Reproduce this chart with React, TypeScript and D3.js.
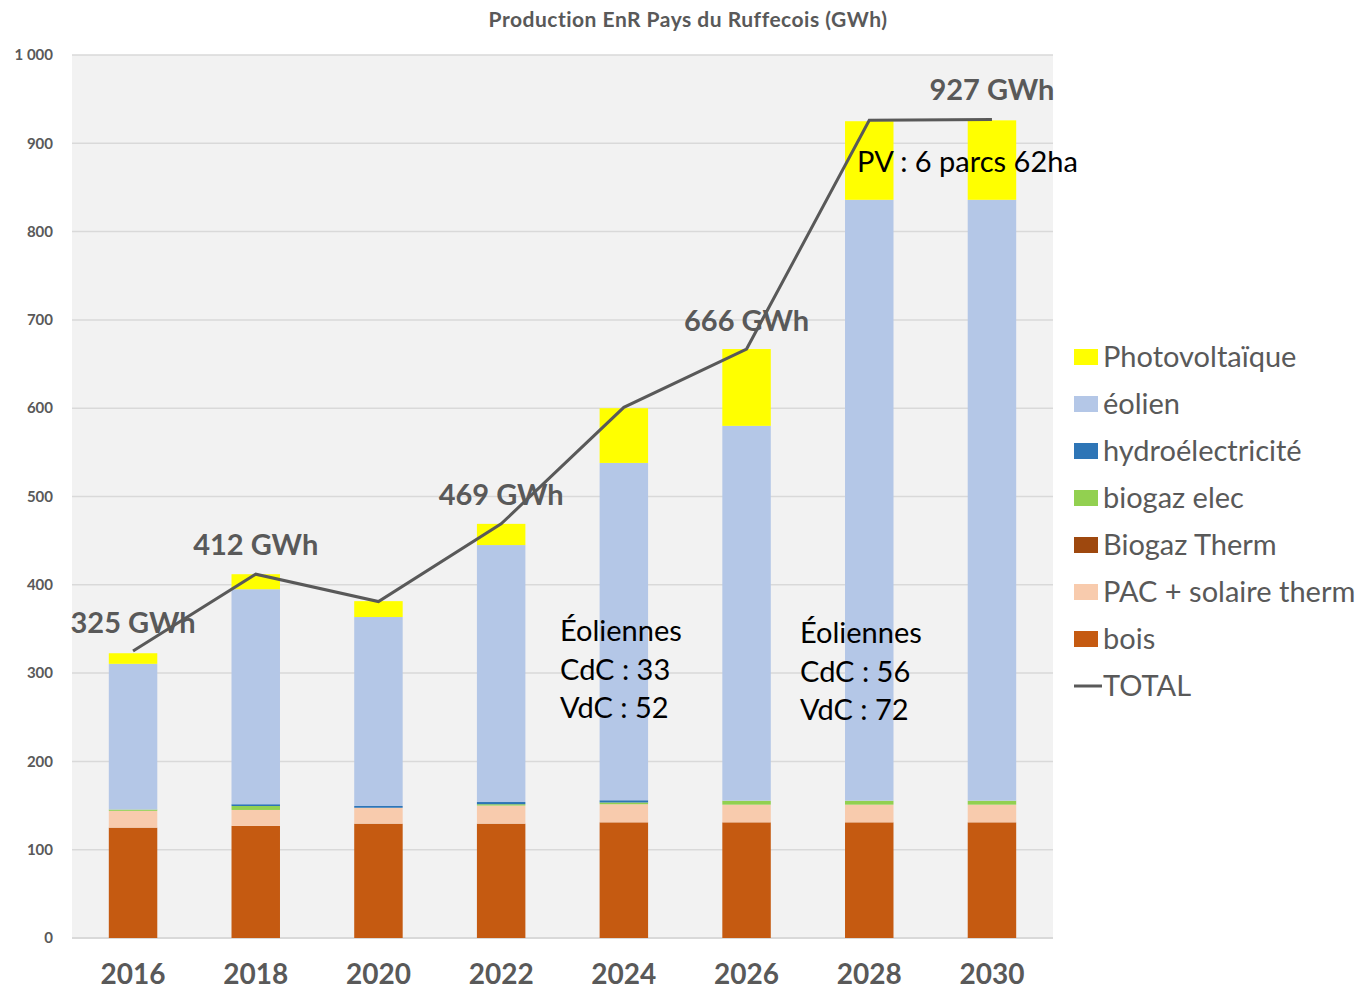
import * as d3 from "d3";

const years = ["2016", "2018", "2020", "2022", "2024", "2026", "2028", "2030"];

const bois = [125, 127, 129.5, 129.5, 131, 131, 131, 131];
const pacSolaire = [19, 18, 18, 20.5, 20.5, 20, 20, 20];
const biogazTherm = [0, 0, 0, 0, 0, 0, 0, 0];
const biogazElec = [1.5, 4.5, 0, 1.5, 2, 4.5, 4.5, 4.5];
const hydro = [0, 2, 2, 2.5, 2.5, 0, 0, 0];
const eolien = [165, 243.5, 214, 291, 382, 424.5, 680.5, 680.5];
const photovoltaique = [12, 17, 18, 24, 62, 87, 89, 90];
const total = [325, 412, 381, 469, 601, 667, 926, 927];

const yTicks = [0, 100, 200, 300, 400, 500, 600, 700, 800, 900, 1000];

const seriesNames = ["bois", "PAC + solaire therm", "Biogaz Therm", "biogaz elec", "hydroélectricité", "éolien", "Photovoltaïque"];
const seriesColors = ["#c55a11", "#f8cbad", "#9e480e", "#92d050", "#2e75b6", "#b4c7e7", "#ffff00"];

const totalLabels = [
  { i: 0, text: "325 GWh", dx: 0, dy: -18 },
  { i: 1, text: "412 GWh", dx: 0, dy: -19 },
  { i: 3, text: "469 GWh", dx: 0, dy: -19 },
  { i: 5, text: "666 GWh", dx: 0, dy: -18 },
  { i: 7, text: "927 GWh", dx: 0, dy: -19 },
];

const FONT = "Lato, 'Open Sans', sans-serif";
const GRAY = "#595959";

export default function App() {
  const width = 1363;
  const height = 992;
  const left = 72;
  const right = 1053;
  const top = 55;
  const bottom = 938;

  const x = d3.scaleBand<string>().domain(years).range([left, right]).paddingInner(0.605).paddingOuter(0.3);
  const y = d3.scaleLinear().domain([0, 1000]).range([bottom, top]);

  const rows = years.map((yr, i) => ({
    year: yr,
    s0: bois[i], s1: pacSolaire[i], s2: biogazTherm[i], s3: biogazElec[i],
    s4: hydro[i], s5: eolien[i], s6: photovoltaique[i],
  }));
  const stack = d3.stack<any>().keys(["s0", "s1", "s2", "s3", "s4", "s5", "s6"]);
  const layers = stack(rows);

  const cx = (yr: string) => (x(yr) as number) + x.bandwidth() / 2;
  const line = d3.line<number>().x((_, i) => cx(years[i])).y((d) => y(d));

  const legendItems = [...seriesNames.map((n, i) => ({ n, c: seriesColors[i] })).reverse()];

  return (
    <svg width={width} height={height} style={{ position: "absolute", left: 0, top: 0, background: "#fff" }} fontFamily={FONT}>
      <rect x={left} y={top} width={right - left} height={bottom - top} fill="#f2f2f2" />
      {yTicks.map((t) => (
        <g key={t}>
          <line x1={left} x2={right} y1={y(t)} y2={y(t)} stroke="#d9d9d9" strokeWidth={t === 0 ? 2 : 1.5} />
          <text x={53} y={y(t)} dy="0.35em" textAnchor="end" fontSize={15} fontWeight="bold" fill={GRAY}>
            {t === 1000 ? "1 000" : t}
          </text>
        </g>
      ))}
      <text x={688} y={27} textAnchor="middle" fontSize={21} fontWeight="bold" fill={GRAY} letterSpacing={0.5}>
        Production EnR Pays du Ruffecois (GWh)
      </text>
      {layers.map((layer, li) => (
        <g key={li} fill={seriesColors[li]}>
          {layer.map((d, j) => (
            <rect key={j} x={x(years[j])} width={x.bandwidth()} y={y(d[1])} height={Math.max(0, y(d[0]) - y(d[1]))} />
          ))}
        </g>
      ))}
      <path d={line(total) as string} fill="none" stroke={GRAY} strokeWidth={3} />
      {totalLabels.map((l) => (
        <text key={l.i} x={cx(years[l.i]) + l.dx} y={y(total[l.i]) + l.dy} textAnchor="middle" fontSize={29} fontWeight="bold" fill={GRAY}>
          {l.text}
        </text>
      ))}
      {years.map((yr) => (
        <text key={yr} x={cx(yr)} y={984} textAnchor="middle" fontSize={28} fontWeight="bold" fill={GRAY}>
          {yr}
        </text>
      ))}
      <text x={857} y={172} fontSize={29} fill="#000">PV : 6 parcs 62ha</text>
      <g fontSize={29} fill="#000">
        <text x={560} y={641}>Éoliennes</text>
        <text x={560} y={680}>CdC : 33</text>
        <text x={560} y={718}>VdC : 52</text>
        <text x={800} y={643}>Éoliennes</text>
        <text x={800} y={682}>CdC : 56</text>
        <text x={800} y={720}>VdC : 72</text>
      </g>
      {legendItems.map((it, i) => (
        <g key={it.n} transform={`translate(1074, ${357 + i * 47})`}>
          <rect x={0} y={-8} width={24} height={16} fill={it.c} />
          <text x={29} y={0} dy="0.35em" fontSize={29} fill={GRAY}>{it.n}</text>
        </g>
      ))}
      <g transform={`translate(1074, ${357 + 7 * 47})`}>
        <line x1={0} x2={28} y1={0} y2={0} stroke={GRAY} strokeWidth={3} />
        <text x={29} y={0} dy="0.35em" fontSize={29} fill={GRAY}>TOTAL</text>
      </g>
    </svg>
  );
}
